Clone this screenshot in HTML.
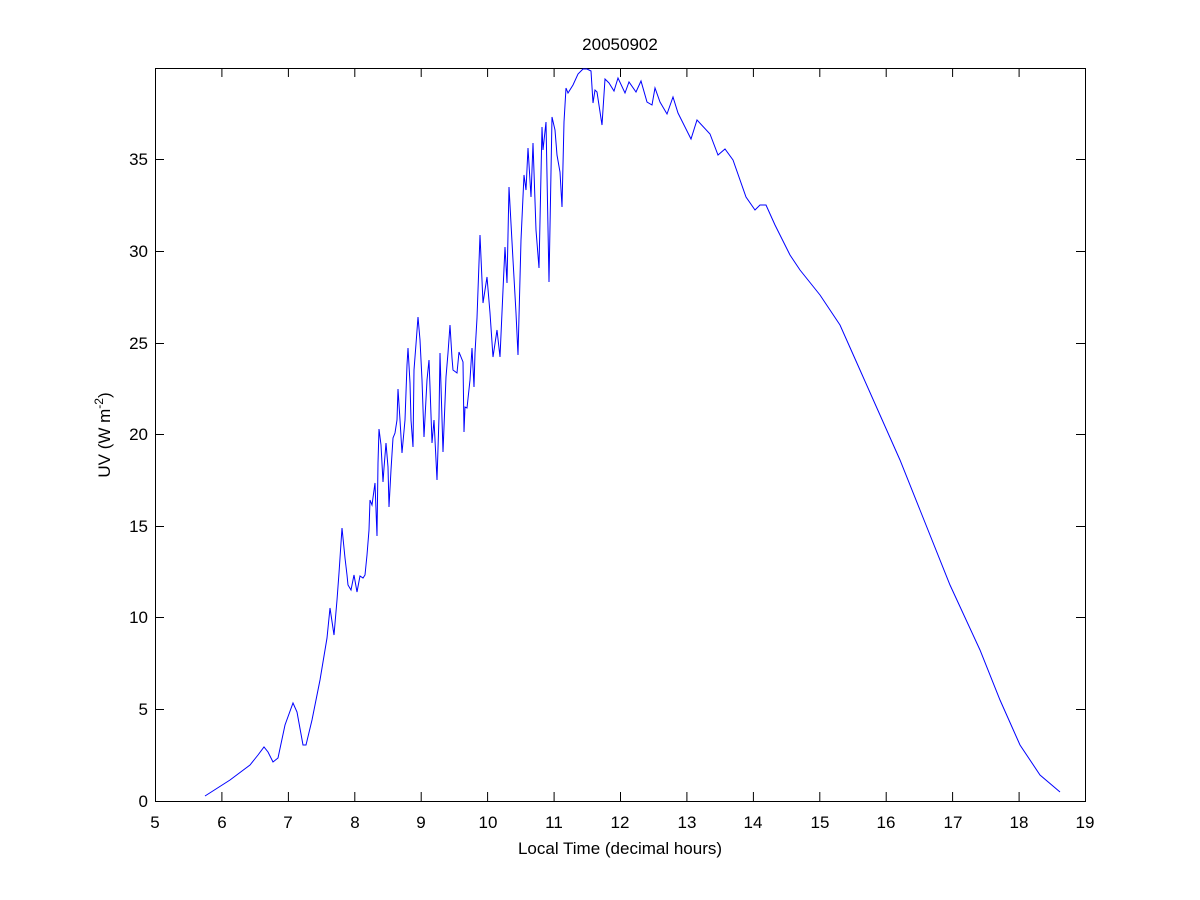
<!DOCTYPE html>
<html><head><style>body{margin:0;background:#fff}svg{display:block}text{font-family:"Liberation Sans",Arial,sans-serif;font-size:17px;fill:#000}</style></head><body>
<svg width="1200" height="900" xmlns="http://www.w3.org/2000/svg">
<rect width="1200" height="900" fill="#fff"/>
<rect x="155.5" y="68.5" width="930" height="733" fill="#fff" stroke="#000" stroke-width="1"/>
<g stroke="#000" stroke-width="1">
<path d="M155.5 801v-9M155.5 68v9M221.9 801v-9M221.9 68v9M288.4 801v-9M288.4 68v9M354.8 801v-9M354.8 68v9M421.2 801v-9M421.2 68v9M487.6 801v-9M487.6 68v9M554.1 801v-9M554.1 68v9M620.5 801v-9M620.5 68v9M686.9 801v-9M686.9 68v9M753.4 801v-9M753.4 68v9M819.8 801v-9M819.8 68v9M886.2 801v-9M886.2 68v9M952.6 801v-9M952.6 68v9M1019.1 801v-9M1019.1 68v9M1085.5 801v-9M1085.5 68v9"/>
<path d="M155 801.5h9M1085 801.5h-9M155 709.5h9M1085 709.5h-9M155 617.5h9M1085 617.5h-9M155 526.5h9M1085 526.5h-9M155 434.5h9M1085 434.5h-9M155 343.5h9M1085 343.5h-9M155 251.5h9M1085 251.5h-9M155 159.5h9M1085 159.5h-9"/>
</g>
<g text-anchor="middle">
<text x="155" y="828">5</text><text x="222" y="828">6</text><text x="288" y="828">7</text><text x="355" y="828">8</text><text x="421" y="828">9</text><text x="488" y="828">10</text><text x="554" y="828">11</text><text x="620" y="828">12</text><text x="687" y="828">13</text><text x="753" y="828">14</text><text x="820" y="828">15</text><text x="886" y="828">16</text><text x="953" y="828">17</text><text x="1019" y="828">18</text><text x="1085" y="828">19</text>
<text x="620" y="854">Local Time (decimal hours)</text>
<text x="620" y="50">20050902</text>
</g>
<g text-anchor="end">
<text x="148" y="807">0</text><text x="148" y="715">5</text><text x="148" y="623">10</text><text x="148" y="532">15</text><text x="148" y="440">20</text><text x="148" y="349">25</text><text x="148" y="257">30</text><text x="148" y="165">35</text>
</g>
<text transform="translate(110,435) rotate(-90)" text-anchor="middle">UV (W m<tspan dy="-7" font-size="12">-2</tspan><tspan dy="7">)</tspan></text>
<polyline fill="none" stroke="#0000ff" stroke-width="1" points="205,796 230,780 250,765 258,755 264,747 268,752 273,762 278,758 285,725 293,703 297,712 303,745 306,745 312,720 320,680 327,638 330,608 334,635 337,600 339,573 342,528 345,558 347,575 348,585 351,590 354,575 357,592 360,576 363,578 365,575 367,555 369,530 370,500 372,505 375,483 377,536 378,463 379,429 381,445 383,482 384,468 386,443 388,467 389,507 391,470 393,438 395,433 397,420 398,389 400,420 402,453 405,420 407,365 408,348 410,383 411,420 413,447 414,370 416,344 418,317 420,340 422,380 424,437 427,380 429,360 430,387 432,443 434,420 437,480 439,417 440,353 443,452 446,377 448,353 450,325 452,358 453,370 457,373 459,352 463,362 464,432 465,407 467,408 470,380 472,348 474,387 475,353 477,318 480,235 483,303 487,277 490,313 493,357 497,330 500,357 503,290 505,247 507,283 509,187 513,260 516,313 518,355 521,240 524,175 526,190 528,148 531,197 533,143 536,230 539,268 542,127 543,150 546,122 549,282 552,117 555,130 557,155 560,172 562,207 564,122 566,88 568,93 573,85 578,74 583,69 587,69 591,71 593,103 595,90 597,92 602,125 605,79 609,83 614,91 618,78 625,93 629,82 636,92 641,81 647,102 652,105 655,88 660,102 667,114 673,97 678,113 691,139 697,120 710,134 718,155 725,149 733,160 746,197 755,210 760,205 766,205 775,225 790,255 800,270 820,295 840,325 860,370 880,415 900,460 920,510 950,585 980,650 1000,700 1020,745 1040,775 1060,792"/>
</svg>
</body></html>
